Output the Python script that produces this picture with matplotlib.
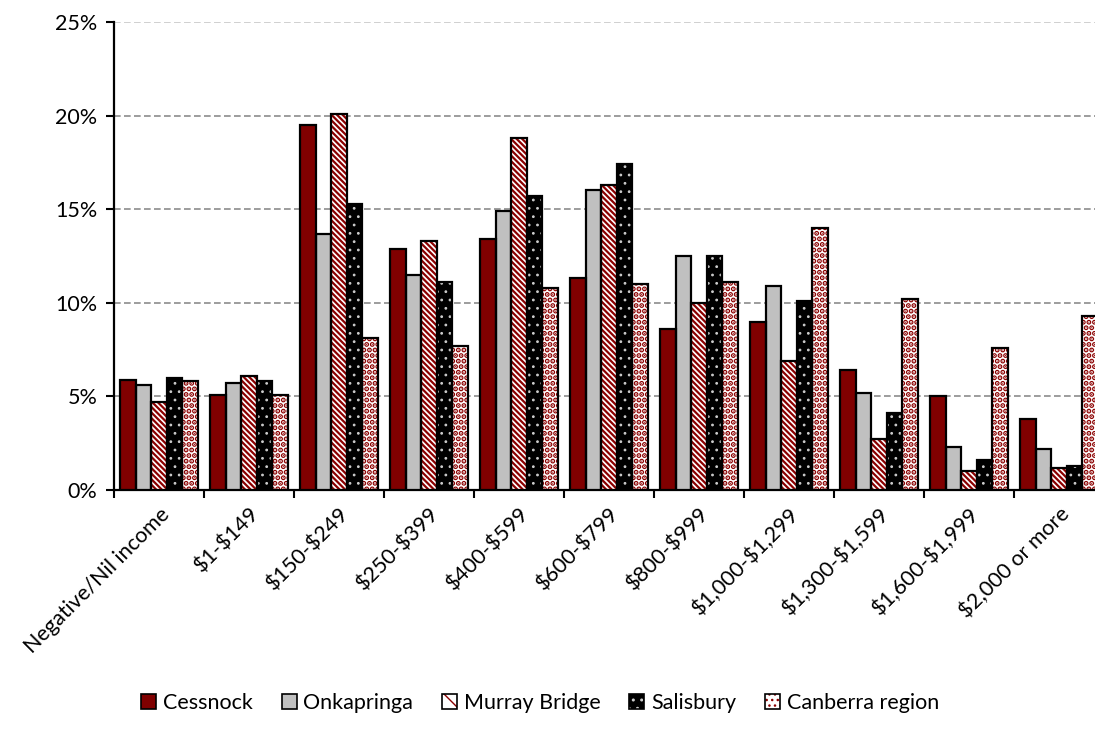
import numpy as np
import matplotlib.pyplot as plt
from matplotlib.patches import Patch
from matplotlib.ticker import FuncFormatter, FixedLocator

plt.rcParams['font.family'] = ['Lato', 'DejaVu Sans']

categories = ['Negative/Nil income', '$1-$149', '$150-$249', '$250-$399', '$400-$599',
              '$600-$799', '$800-$999', '$1,000-$1,299', '$1,300-$1,599',
              '$1,600-$1,999', '$2,000 or more']

cessnock = [5.9, 5.1, 19.5, 12.9, 13.4, 11.3, 8.6, 9.0, 6.4, 5.0, 3.8]
onkapringa = [5.6, 5.7, 13.7, 11.5, 14.9, 16.0, 12.5, 10.9, 5.2, 2.3, 2.2]
murray_bridge = [4.7, 6.1, 20.1, 13.3, 18.8, 16.3, 10.0, 6.9, 2.7, 1.0, 1.2]
salisbury = [6.0, 5.8, 15.3, 11.1, 15.7, 17.4, 12.5, 10.1, 4.1, 1.6, 1.3]
canberra = [5.8, 5.1, 8.1, 7.7, 10.8, 11.0, 11.1, 14.0, 10.2, 7.6, 9.3]

series = [
    # name, values, face, hatch, hatch colour, hatch width
    ('Cessnock', cessnock, '#800000', None, None, 1.0),
    ('Onkapringa', onkapringa, '#C0C0C0', None, None, 1.0),
    ('Murray Bridge', murray_bridge, 'white', '\\' * 6, '#8B0000', 1.6),
    ('Salisbury', salisbury, 'black', '..', '#CCCCCC', 0.8),
    ('Canberra region', canberra, 'white', '...', '#8B0000', 2.6),
]

fig = plt.figure(figsize=(10.95, 7.42), dpi=100)
ax = fig.add_axes([114 / 1095, 1 - 490 / 742, 990 / 1095, (490 - 22) / 742])

x = np.arange(len(categories))
w = 0.174
handles = []
for i, (name, vals, face, hatch, hcol, hlw) in enumerate(series):
    pos = x - 2 * w + i * w
    with plt.rc_context({'hatch.linewidth': hlw}):
        if hatch:
            ax.bar(pos, vals, w, color=face, edgecolor=hcol, hatch=hatch, linewidth=0, zorder=3)
            fill = Patch(facecolor=face, edgecolor=hcol, hatch=hatch[:2] if len(hatch) > 3 else hatch,
                         linewidth=0)
        else:
            ax.bar(pos, vals, w, color=face, linewidth=0, zorder=3)
            fill = Patch(facecolor=face, linewidth=0)
    ax.bar(pos, vals, w, facecolor='none', edgecolor='black', linewidth=1.6, zorder=4)
    handles.append((fill, Patch(facecolor='none', edgecolor='black', linewidth=1.2)))

ax.set_xlim(-0.5, len(categories) - 0.5)
ax.set_ylim(0, 25)
ax.set_yticks([0, 5, 10, 15, 20, 25])
ax.yaxis.set_major_formatter(FuncFormatter(lambda v, p: f'{v:.0f}%'))
ax.yaxis.grid(True, linestyle='--', color='#8c8c8c', linewidth=1.2, dashes=(4, 2))
ax.set_axisbelow(True)
# the top gridline is lighter than the others
ax.get_ygridlines()[-1].set_color('#c8c8c8')

ax.set_xticks(x)
ax.set_xticklabels([c.replace('$', r'\$') for c in categories],
                   rotation=45, ha='right', rotation_mode='anchor')
ax.tick_params(axis='x', length=0, pad=10, labelsize=15.5)
ax.xaxis.set_minor_locator(FixedLocator(np.arange(-0.5, len(categories), 1)))
ax.tick_params(axis='x', which='minor', length=6, width=1.5, direction='out')
ax.tick_params(axis='y', length=6, width=1.5, direction='out', labelsize=15.5, pad=6)

for s in ['top', 'right']:
    ax.spines[s].set_visible(False)
for s in ['left', 'bottom']:
    ax.spines[s].set_linewidth(1.6)

fig.legend(handles=handles, labels=[s[0] for s in series], loc='center',
           bbox_to_anchor=(540 / 1095, 1 - 703 / 742),
           ncol=5, frameon=False, fontsize=15.5, handlelength=0.7, handleheight=0.7,
           handletextpad=0.3, columnspacing=1.35)

fig.savefig('out.png', dpi=100)
